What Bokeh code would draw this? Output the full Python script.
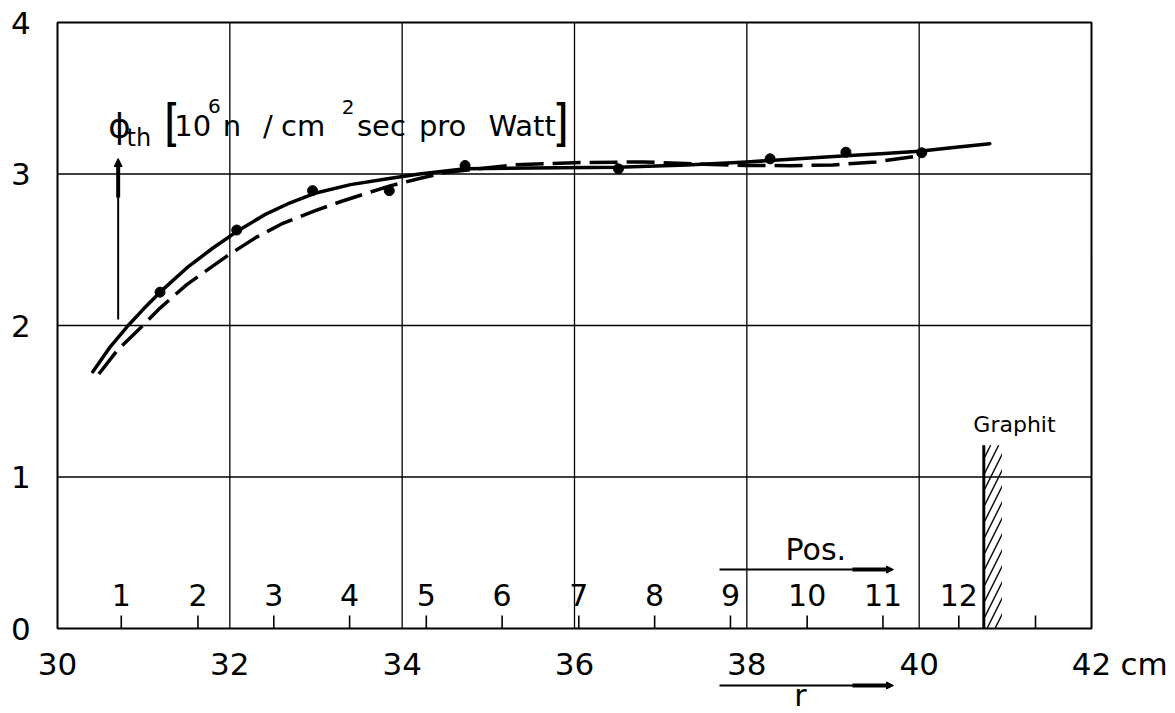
from bokeh.plotting import figure
from bokeh.models import Arrow, NormalHead, Range1d
from bokeh.core.properties import value
from bokeh.embed import file_html
from bokeh.resources import INLINE

# --- data -------------------------------------------------------------
# radius (cm) and thermal flux (10^6 n / cm^2 sec per Watt)
meas_r = [31.19, 32.08, 32.96, 33.85, 34.73, 36.51, 38.27, 39.15, 40.03]
meas_flux = [2.22, 2.63, 2.89, 2.89, 3.056, 3.034, 3.10, 3.144, 3.14]

solid_r = [30.41, 30.6, 30.82, 31.0, 31.19, 31.5, 31.8, 32.08, 32.4, 32.7,
           33.0, 33.4, 33.85, 34.2, 34.73, 35.5, 36.5, 37.3, 38.0, 38.6,
           39.15, 39.6, 40.0, 40.4, 40.82]
solid_flux = [1.695, 1.85, 2.0, 2.11, 2.22, 2.38, 2.51, 2.62, 2.73, 2.81,
              2.875, 2.93, 2.97, 3.0, 3.035, 3.04, 3.045, 3.06, 3.08, 3.10,
              3.12, 3.135, 3.15, 3.175, 3.20]

dashed_r = [30.48, 30.7, 30.99, 31.19, 31.5, 31.97, 32.3, 32.6, 33.0, 33.3,
            33.6, 33.85, 34.2, 34.5, 35.3, 36.0, 36.8, 37.5, 38.0, 38.5,
            39.0, 39.5, 40.0]
dashed_flux = [1.68, 1.84, 2.0, 2.115, 2.27, 2.46, 2.58, 2.67, 2.76, 2.82,
               2.875, 2.92, 2.97, 3.01, 3.06, 3.075, 3.08, 3.065, 3.056, 3.055,
               3.06, 3.08, 3.12]

# measuring positions along r
pos_r = [30.74, 31.63, 32.51, 33.39, 34.28, 35.16, 36.05, 36.93, 37.81,
         38.70, 39.58, 40.46, 41.35]
pos_labels = ["1", "2", "3", "4", "5", "6", "7", "8", "9", "10", "11", "12"]

x_ticks = [30, 32, 34, 36, 38, 40, 42]
x_tick_labels = ["30", "32", "34", "36", "38", "40", "42"]
x_grid = [32, 34, 36, 38, 40]
y_ticks = [0, 1, 2, 3, 4]
y_tick_labels = ["0", "1", "2", "3", "4"]
y_grid = [1, 2, 3]

graphite_r = 40.75
graphite_top = 1.21
graphite_thick = 0.21

X_MIN, X_MAX, Y_MIN, Y_MAX = 30, 42, 0, 4

# --- layout: the diagram box inside the 1175 x 713 page ---------------------
W, H = 1175, 713
BOX_L, BOX_R, BOX_T, BOX_B = 57, 1091, 22, 628
sx = (BOX_R - BOX_L) / (X_MAX - X_MIN)
sy = (BOX_B - BOX_T) / (Y_MAX - Y_MIN)

FONT = "DejaVu Sans"
BRACKET_FONT = "Roboto"

p = figure(width=W, height=H,
           x_range=Range1d(X_MIN - BOX_L / sx, X_MIN + (W - BOX_L) / sx),
           y_range=Range1d(Y_MIN - (H - BOX_B) / sy, Y_MIN + BOX_B / sy),
           output_backend="svg", toolbar_location=None, min_border=0)
p.axis.visible = False
p.grid.visible = False
p.outline_line_color = None
p.background_fill_color = "white"
p.border_fill_color = "white"


def txt(x, y, s, size, font=FONT, align="left"):
    p.text(x=[x], y=[y], text=[s], text_align=align, text_baseline="middle",
           text_font=value(font), text_font_size=size, text_color="black")


# grid and box
p.segment(x0=x_grid, y0=[Y_MIN] * len(x_grid), x1=x_grid, y1=[Y_MAX] * len(x_grid),
          line_color="black", line_width=1.3)
p.segment(x0=[X_MIN] * len(y_grid), y0=y_grid, x1=[X_MAX] * len(y_grid), y1=y_grid,
          line_color="black", line_width=1.3)
p.quad(left=[X_MIN], right=[X_MAX], bottom=[Y_MIN], top=[Y_MAX],
       fill_alpha=0, line_color="black", line_width=2)

# axis numbers
p.text(x=[29.576] * len(y_ticks), y=y_ticks, text=y_tick_labels,
       text_align="center", text_baseline="middle", text_font=value(FONT),
       text_font_size="31px", text_color="black")
p.text(x=x_ticks, y=[-0.233] * len(x_ticks), text=x_tick_labels,
       text_align="center", text_baseline="middle", text_font=value(FONT),
       text_font_size="31px", text_color="black")
txt(42.337, -0.233, "cm", "31px")

# --- position scale along the bottom -----------------------------------
p.segment(x0=pos_r, y0=[0] * len(pos_r), x1=pos_r, y1=[0.086] * len(pos_r),
          line_color="black", line_width=1.6)
p.text(x=pos_r[:len(pos_labels)], y=[0.2205] * len(pos_labels), text=pos_labels,
       text_align="center", text_baseline="middle",
       text_font=value(FONT), text_font_size="30px", text_color="black")

# --- graphite boundary ---------------------------------------------------
p.quad(left=[graphite_r], right=[graphite_r + graphite_thick], bottom=[0],
       top=[graphite_top], fill_alpha=0, line_alpha=0,
       hatch_pattern="/", hatch_color="black", hatch_weight=1.4, hatch_scale=16)
p.segment(x0=[graphite_r], y0=[0], x1=[graphite_r], y1=[graphite_top],
          line_color="black", line_width=3)
txt(41.106, 1.344, "Graphit", "22px", align="center")

# --- curves and measured points -----------------------------------------
p.line(solid_r, solid_flux, line_color="black", line_width=3.5,
       line_join="round", line_cap="round")
p.line(dashed_r, dashed_flux, line_color="black", line_width=3.5,
       line_dash="28 9", line_join="round")
p.scatter(meas_r, meas_flux, size=10, marker="circle",
          fill_color="black", line_color="black")

# --- quantity label with arrow ------------------------------------------
txt(30.59, 3.314, "\u03d5", "34px")
txt(30.801, 3.236, "th", "24px")
txt(31.24, 3.330, "[", "46px", BRACKET_FONT)
txt(31.355, 3.320, "10", "29px")
txt(31.746, 3.451, "6", "20px")
txt(31.919, 3.320, "n", "29px")
txt(32.385, 3.320, "/", "29px")
txt(32.594, 3.320, "cm", "29px")
txt(33.300, 3.445, "2", "20px")
txt(33.476, 3.320, "sec", "29px")
txt(34.194, 3.320, "pro", "29px")
txt(35.002, 3.320, "Watt", "29px")
txt(35.791, 3.330, "]", "46px", BRACKET_FONT)

phi_x = 30.704
p.add_layout(Arrow(x_start=phi_x, y_start=2.04, x_end=phi_x, y_end=3.102,
                   line_width=2, line_color="black",
                   end=NormalHead(size=8, fill_color="black", line_color="black")))
p.add_layout(Arrow(x_start=phi_x, y_start=2.845, x_end=phi_x, y_end=3.06,
                   line_width=4, line_color="black", end=None))

# --- direction arrows for position and radius ------------------------------
for ya in (0.389, -0.376):
    p.add_layout(Arrow(x_start=37.683, y_start=ya, x_end=39.702, y_end=ya,
                       line_width=2, line_color="black",
                       end=NormalHead(size=7, fill_color="black", line_color="black")))
    p.add_layout(Arrow(x_start=39.226, y_start=ya, x_end=39.63, y_end=ya,
                       line_width=4, line_color="black", end=None))

txt(38.449, 0.524, "Pos.", "30px")
txt(38.623, -0.442, "r", "30px", align="center")

open("out.html", "w").write(file_html(p, INLINE))
